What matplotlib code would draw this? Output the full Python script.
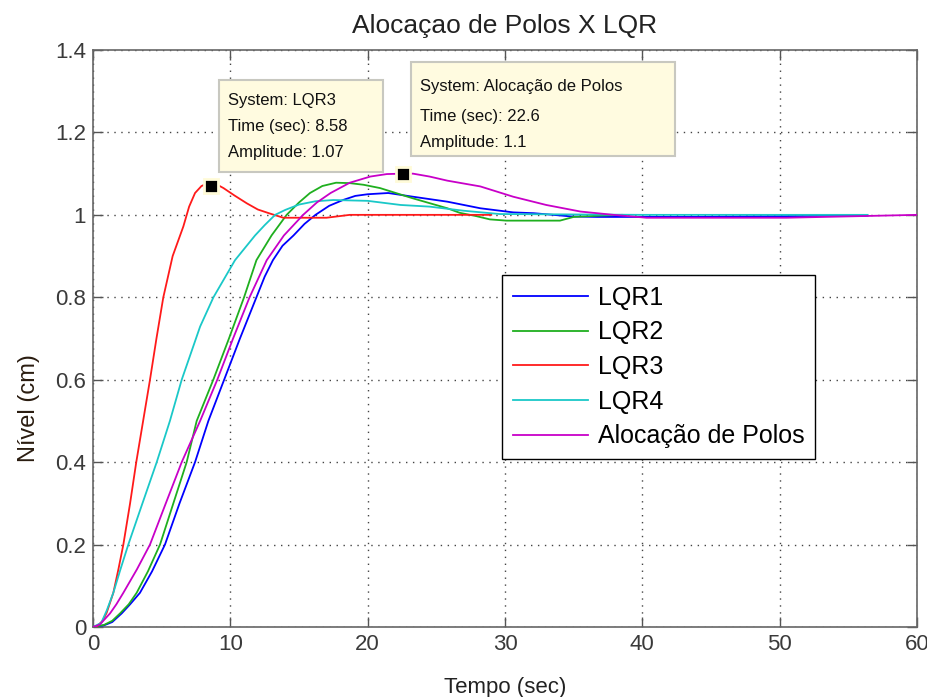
import matplotlib
matplotlib.use("Agg")
import matplotlib.pyplot as plt
from matplotlib.patches import Rectangle

# ---------------- data ----------------
t_lqr1 = [0, 0.8, 1.4, 2.09, 2.7, 3.42, 4.3, 5.24, 6.3, 7.43, 8.4, 9.55, 10.7, 11.9, 12.5, 13.1,
          13.8, 14.6, 15.4, 16.2, 17.2, 18.2, 19.1, 20.0, 21.5, 23.3, 25.8, 28.2, 30.6, 32.1,
          34.9, 36.7, 40.3, 44.1, 50.6, 56.4]
y_lqr1 = [0, 0.004, 0.012, 0.033, 0.055, 0.083, 0.135, 0.2, 0.3, 0.4, 0.5, 0.6, 0.7, 0.8, 0.85, 0.89,
          0.925, 0.95, 0.978, 1.0, 1.022, 1.036, 1.046, 1.05, 1.053, 1.044, 1.032, 1.016, 1.006, 1.004,
          0.996, 0.995, 0.995, 0.995, 0.997, 0.998]

t_lqr2 = [0, 0.8, 1.4, 1.97, 2.6, 3.18, 4.0, 4.88, 5.85, 6.82, 7.55, 8.76, 9.9, 11.0, 11.9, 13.0,
          14.1, 15.0, 15.8, 16.7, 17.7, 18.7, 19.7, 20.9, 23.3, 25.8, 26.7, 27.9, 28.9, 30.1,
          34.0, 35.0, 36.8, 38.5]
y_lqr2 = [0, 0.005, 0.015, 0.033, 0.055, 0.083, 0.135, 0.2, 0.3, 0.4, 0.5, 0.6, 0.7, 0.8, 0.89, 0.95,
          1.0, 1.03, 1.053, 1.07, 1.078, 1.077, 1.073, 1.065, 1.04, 1.016, 1.005, 0.997, 0.989, 0.986,
          0.986, 0.995, 0.998, 1.0]

t_lqr3 = [0, 0.3, 0.7, 1.0, 1.48, 1.85, 2.21, 2.7, 3.15, 3.65, 4.15, 4.62, 5.12, 5.8, 6.58, 7.0,
          7.43, 7.9, 8.4, 9.0, 9.5, 10.3, 11.2, 12.0, 12.9, 13.86, 17.0, 18.7, 29.0]
y_lqr3 = [0, 0.002, 0.015, 0.035, 0.083, 0.14, 0.2, 0.3, 0.4, 0.5, 0.6, 0.7, 0.8, 0.9, 0.972, 1.02,
          1.053, 1.07, 1.077, 1.074, 1.065, 1.047, 1.028, 1.013, 1.003, 0.993, 0.993, 1.0, 1.0]

t_lqr4 = [0, 0.6, 1.0, 1.48, 2.0, 2.57, 3.6, 4.64, 5.6, 6.46, 7.8, 8.77, 10.34, 11.8, 12.5, 13.26,
          14.0, 15.0, 16.2, 17.5, 20.0, 22.4, 24.5, 27.0, 29.6, 40.0, 56.4]
y_lqr4 = [0, 0.01, 0.04, 0.083, 0.14, 0.2, 0.3, 0.4, 0.5, 0.6, 0.729, 0.8, 0.89, 0.95, 0.975, 1.0,
          1.012, 1.025, 1.033, 1.036, 1.034, 1.024, 1.02, 1.01, 1.002, 1.0, 1.0]

t_aloc = [0, 0.5, 1.24, 1.7, 2.21, 3.2, 4.15, 5.3, 6.46, 7.8, 9.05, 10.2, 11.4, 12.65, 13.9, 15.3,
          16.3, 17.3, 18.7, 20.2, 21.4, 22.6, 23.3, 24.5, 25.8, 28.2, 30.6, 33.0, 35.5, 37.9, 40.3,
          50.5, 60.0]
y_aloc = [0, 0.006, 0.033, 0.055, 0.083, 0.14, 0.2, 0.3, 0.4, 0.5, 0.6, 0.7, 0.8, 0.89, 0.95, 1.0,
          1.03, 1.053, 1.078, 1.093, 1.099, 1.1, 1.1, 1.093, 1.083, 1.069, 1.044, 1.024, 1.008, 1.0, 0.993,
          0.993, 1.0]

series_names = ["LQR1", "LQR2", "LQR3", "LQR4", "Alocação de Polos"]
series_colors = ["#0000ff", "#1faf1f", "#ff1a1a", "#1ac8c8", "#c800c8"]

tips = [  # (system, time, amplitude)
    ("LQR3", 8.58, 1.07),
    ("Alocação de Polos", 22.6, 1.1),
]

xticks = [0, 10, 20, 30, 40, 50, 60]
yticks = [0, 0.2, 0.4, 0.6, 0.8, 1.0, 1.2, 1.4]
ytick_labels = ["0", "0.2", "0.4", "0.6", "0.8", "1", "1.2", "1.4"]

# ---------------- figure ----------------
W, H = 928, 697
fig = plt.figure(figsize=(W / 100, H / 100), dpi=100)
L, R, T, B = 93, 917, 50, 627
ax = fig.add_axes([L / W, 1 - B / H, (R - L) / W, (B - T) / H])

narrow = ["Liberation Sans Narrow", "Liberation Sans", "DejaVu Sans"]
txtc = "#3a3a3a"

data = [(t_lqr1, y_lqr1), (t_lqr2, y_lqr2), (t_lqr3, y_lqr3), (t_lqr4, y_lqr4), (t_aloc, y_aloc)]
for (t, y), name, c in zip(data, series_names, series_colors):
    ax.plot(t, y, color=c, lw=1.3, label=name, zorder=3)

ax.set_xlim(0, 60)
ax.set_ylim(0, 1.4)
ax.set_xticks(xticks)
ax.set_xticklabels([str(v) for v in xticks], family=narrow, fontsize=16, color=txtc)
ax.set_yticks(yticks)
ax.set_yticklabels(ytick_labels, family=narrow, fontsize=16, color=txtc)
ax.tick_params(direction="in", length=7, width=1, color="#555555", top=True, right=True, pad=5)
ax.grid(True, linestyle=(0, (1, 4)), color="#444444", lw=1.0)
for s in ax.spines.values():
    s.set_color("#666666")
    s.set_linewidth(1.2)

ax.set_title("Alocaçao de Polos X LQR", family=narrow, fontsize=19, color="#222222", pad=12)
ax.set_xlabel("Tempo (sec)", family=narrow, fontsize=16, color="#222222", labelpad=16)
ax.set_ylabel("Nível (cm)", family=["Liberation Sans", "DejaVu Sans"], fontsize=17,
              color="#2a1c10")
ax.yaxis.set_label_coords((40 - L) / (R - L), (B - 408) / (B - T))

leg = ax.legend(loc="upper left", bbox_to_anchor=((502 - L) / (R - L), (B - 275) / (B - T)),
                prop={"family": narrow, "size": 18}, frameon=True, fancybox=False,
                edgecolor="black", framealpha=1, handlelength=3.0, handletextpad=0.4,
                labelspacing=0.43, borderpad=0.42, borderaxespad=0)
leg.get_frame().set_linewidth(1.0)
for lh in leg.get_lines():
    lh.set_linewidth(1.3)

# data tips
def ax_frac(px, py):
    return (px - L) / (R - L), (B - py) / (B - T)

boxes = [((219, 80, 383, 172), (228, [101, 127, 153])),
         ((411, 62, 675, 156), (420, [87, 116, 143]))]
for (name, tt, amp), ((x0, y0, x1, y1), (tx, lys)) in zip(tips, boxes):
    ax.plot([tt], [amp], marker="s", ms=10, mfc="black", mec="#fffbd8", mew=2, zorder=6, clip_on=False)
    fx0, fy1 = ax_frac(x0, y1)
    fx1, fy0 = ax_frac(x1, y0)
    ax.add_patch(Rectangle((fx0, fy1), fx1 - fx0, fy0 - fy1, transform=ax.transAxes,
                           facecolor="#fffbe0", edgecolor="#c8c8c0", lw=1.5, zorder=7))
    lines = [f"System: {name}", f"Time (sec): {tt:g}", f"Amplitude: {amp:g}"]
    for s, ly in zip(lines, lys):
        fx, fy = ax_frac(tx, ly)
        ax.text(fx, fy, s, transform=ax.transAxes, ha="left", va="center",
                family=["Liberation Sans", "DejaVu Sans"], fontsize=12, color="#111111", zorder=8)

fig.savefig("out.png", dpi=100)
